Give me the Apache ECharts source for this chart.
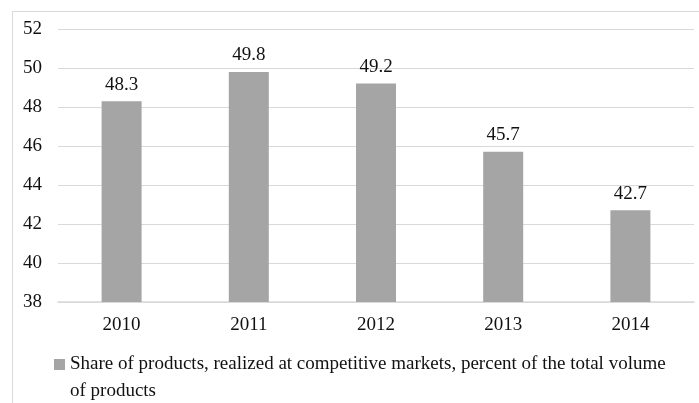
<!DOCTYPE html>
<html>
<head>
<meta charset="utf-8">
<style>html,body{margin:0;padding:0;background:#fff;}#c{width:699px;height:403px;}</style>
<script src="https://cdn.jsdelivr.net/npm/echarts@6/dist/echarts.min.js"></script>
</head>
<body>
<div id="c"></div>
<script>
const categories = ['2010', '2011', '2012', '2013', '2014'];
const shareValues = [48.3, 49.8, 49.2, 45.7, 42.7];
const seriesName = 'Share of products, realized at competitive markets, percent of the total volume of products';

const chart = echarts.init(document.getElementById('c'));
const font = '"Liberation Serif", "Times New Roman", serif';
chart.setOption({
  animation: false,
  backgroundColor: '#fff',
  textStyle: { fontFamily: font },
  graphic: [{
    type: 'rect',
    shape: { x: 12.5, y: 11.5, width: 720, height: 420 },
    style: { fill: 'none', stroke: '#d9d9d9', lineWidth: 1 },
    silent: true
  }],
  grid: { left: 58, right: 5, top: 29, bottom: 101 },
  legend: {
    left: 49, top: 319,
    itemWidth: 11, itemHeight: 11, icon: 'rect',
    formatter: function (name) { return '\n' + name; },
    textStyle: { fontFamily: font, fontSize: 19, color: '#111', width: 612, overflow: 'break', lineHeight: 27 },
    data: [seriesName]
  },
  xAxis: {
    type: 'category', data: categories,
    axisLine: { lineStyle: { color: '#d9d9d9', width: 1.5 } },
    axisTick: { show: false },
    axisLabel: { fontFamily: font, fontSize: 19, color: '#111', margin: 14 }
  },
  yAxis: {
    type: 'value', min: 38, max: 52, interval: 2,
    axisLine: { show: false }, axisTick: { show: false },
    splitLine: { lineStyle: { color: '#d9d9d9', width: 1 } },
    axisLabel: { fontFamily: font, fontSize: 19, color: '#111', margin: 16 }
  },
  series: [{
    name: seriesName, type: 'bar', data: shareValues,
    barWidth: 40,
    itemStyle: { color: '#a5a5a5' },
    label: { show: true, position: 'top', distance: 7, fontFamily: font, fontSize: 19, color: '#111' }
  }]
});
</script>
</body>
</html>
